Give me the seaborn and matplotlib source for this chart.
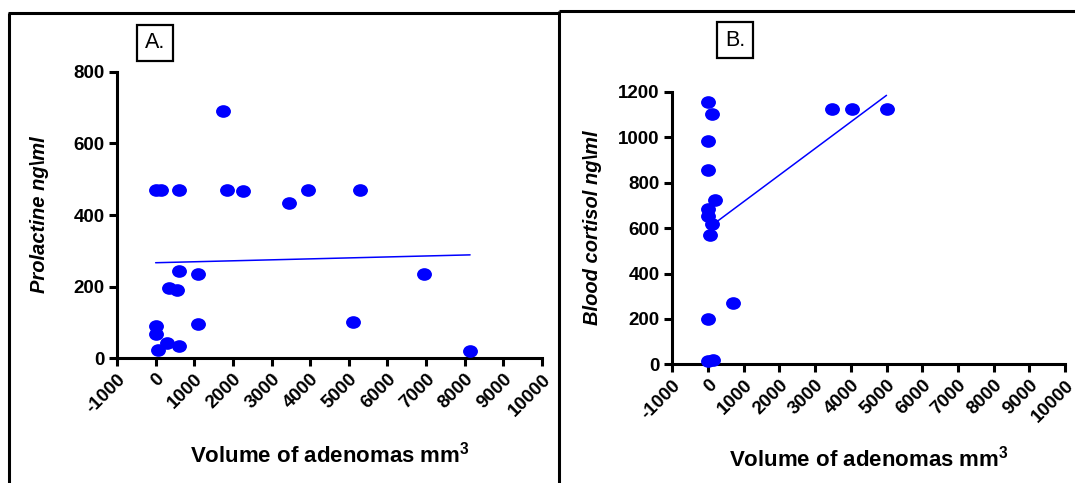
import numpy as np
import matplotlib
matplotlib.use("Agg")
import matplotlib.pyplot as plt
from matplotlib.lines import Line2D
from matplotlib.path import Path
from matplotlib.transforms import Affine2D
import seaborn as sns

# Panel A: adenoma volume vs prolactine
vol_a = [1749, 0, 147, 606, 1835, 2268, 3463, 3939, 5299, 606, 1100,
         346, 554, 6944, 0, 0, 294, 61, 606, 1100, 5108, 8139]
prolactine = [690, 470, 470, 470, 470, 468, 433, 470, 470, 244, 235,
              197, 191, 234, 91, 68, 44, 23, 34, 95, 100, 21]

# Panel B: adenoma volume vs blood cortisol
vol_b = [0, 121, 0, 0, 196, 0, 0, 112, 65, 700, 0, 0, 140, 3467, 4047, 5000]
cortisol = [1156, 1101, 985, 856, 722, 684, 653, 618, 568, 270, 200, 16, 19,
            1123, 1123, 1123]

x_ticks = list(range(-1000, 10001, 1000))

sns.set_style("ticks")
plt.rcParams["font.family"] = ["Liberation Sans", "DejaVu Sans"]
plt.rcParams["mathtext.fontset"] = "custom"
plt.rcParams["mathtext.rm"] = "Liberation Sans"
plt.rcParams["mathtext.bf"] = "Liberation Sans:bold"
for k in ["text.color", "axes.labelcolor", "xtick.color", "ytick.color"]:
    plt.rcParams[k] = "black"

W, H = 1075, 483
fig = plt.figure(figsize=(W / 100, H / 100), dpi=100)
fig.patch.set_facecolor("white")

# slightly wide dots, like the original
dot = Path.unit_circle().transformed(Affine2D().scale(1.0, 0.85))


def px_axes(left, top, right, bottom):
    return fig.add_axes([left / W, 1 - bottom / H, (right - left) / W, (bottom - top) / H])


def panel(ax, x, y, ylim, yticks, ylabel, ylab_x, xlab_y):
    sns.regplot(x=x, y=y, ax=ax, ci=None, marker=dot, color="#0000ff",
                scatter_kws=dict(s=115, linewidths=0, alpha=1, clip_on=False, zorder=4),
                line_kws=dict(lw=1.1, color="#0000ff", zorder=3))
    ax.set_xlim(-1000, 10000)
    ax.set_ylim(*ylim)
    ax.set_xticks(x_ticks)
    ax.set_yticks(yticks)
    ax.set_xticklabels([str(t) for t in x_ticks], rotation=45, ha="right",
                       rotation_mode="anchor", fontsize=13.5, fontweight="bold")
    ax.set_yticklabels([str(t) for t in yticks], fontsize=13.5, fontweight="bold")
    ax.tick_params(length=6, width=2.2, color="black", pad=3)
    for s in ["top", "right"]:
        ax.spines[s].set_visible(False)
    for s in ["left", "bottom"]:
        ax.spines[s].set_linewidth(2.2)
        ax.spines[s].set_color("black")
    ax.set_xlabel(r"Volume of adenomas mm$^{\mathbf{3}}$", fontsize=16, fontweight="bold")
    ax.set_ylabel(ylabel, fontsize=14.5, fontweight="bold", fontstyle="italic")
    ax.yaxis.set_label_coords(ylab_x, 0.5)
    ax.xaxis.set_label_coords(0.5, xlab_y)
    ax.set_facecolor("none")


ax_a = px_axes(117, 71.7, 542, 358.3)
panel(ax_a, vol_a, prolactine, (0, 800), [0, 200, 400, 600, 800],
      "Prolactine ng\\ml", -0.16, -0.29)

ax_b = px_axes(672.3, 92, 1065, 364.3)
panel(ax_b, vol_b, cortisol, (0, 1200), [0, 200, 400, 600, 800, 1000, 1200],
      "Blood cortisol ng\\ml", -0.18, -0.30)

# panel frames
def fig_line(x0, y0, x1, y1):
    fig.add_artist(Line2D([x0 / W, x1 / W], [1 - y0 / H, 1 - y1 / H],
                          color="black", lw=2.2, solid_capstyle="butt"))

fig_line(8, 13, 559, 13)
fig_line(9, 13, 9, 483)
fig_line(559, 11, 1075, 11)
fig_line(559, 11, 559, 483)

# panel letters
for label, cx, cy in [("A.", 155, 43), ("B.", 735, 40)]:
    fig.text(cx / W, 1 - cy / H, label, fontsize=15.5, ha="center", va="center",
             bbox=dict(boxstyle="square,pad=0.35", fc="white", ec="black", lw=1.6))

fig.savefig("out.png", dpi=100)
